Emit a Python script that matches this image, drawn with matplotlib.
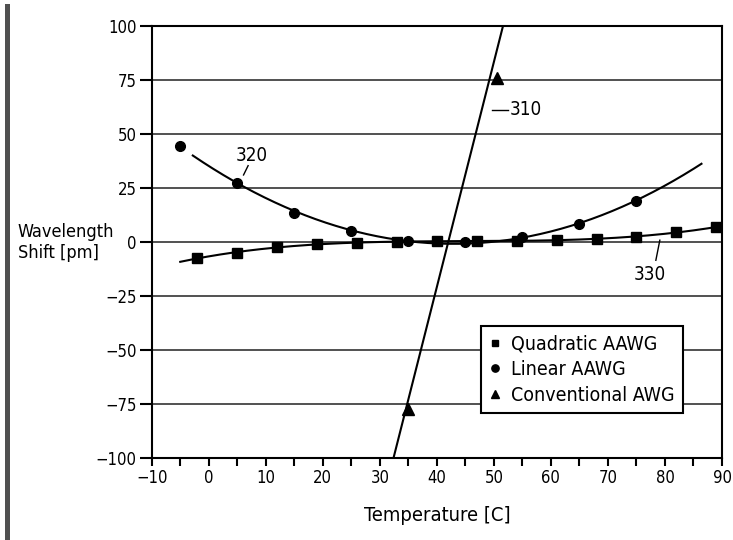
import matplotlib
matplotlib.use('Agg')
import matplotlib.pyplot as plt
import numpy as np
from matplotlib.patches import Rectangle

plt.rcParams['font.family'] = ['DejaVu Sans']
plt.rcParams['font.stretch'] = 'condensed'

# measured points
quad_temp = [-2, 5, 12, 19, 26, 33, 40, 47, 54, 61, 68, 75, 82, 89]
quad_shift = [-7.5, -5.0, -2.5, -0.9, -0.3, 0.0, 0.3, 0.3, 0.6, 0.9, 1.25, 2.5, 4.6, 6.8]

lin_temp = [-5, 5, 15, 25, 35, 45, 55, 65, 75]
lin_shift = [44.4, 27.5, 13.3, 5.1, 0.3, 0.0, 2.5, 8.3, 19.1]

conv_temp = [35, 50.5]
conv_shift = [-77.5, 76]

# drawn trend lines (ranges as in the figure)
quad_fit_range = [-5, 88.3]
lin_fit_range = [-2.8, 86.4]
conv_fit_temp = [32.4, 51.6]
conv_fit_shift = [-100, 100]

fig = plt.figure(figsize=(7.33, 5.40), dpi=100)
ax = fig.add_axes([0.207, 0.152, 0.778, 0.800])

# trend curves fitted to the measured points
t_q = np.linspace(quad_fit_range[0], quad_fit_range[1], 200)
ax.plot(t_q, np.polyval(np.polyfit(quad_temp, quad_shift, 3), t_q), color='black', lw=1.5, zorder=3)
t_l = np.linspace(lin_fit_range[0], lin_fit_range[1], 200)
ax.plot(t_l, np.polyval(np.polyfit(lin_temp, lin_shift, 2), t_l), color='black', lw=1.5, zorder=3)
ax.plot(conv_fit_temp, conv_fit_shift, color='black', lw=1.5, zorder=3)

ax.plot(quad_temp, quad_shift, 's', color='black', ms=6.5, ls='none', zorder=4, clip_on=False, label='Quadratic AAWG')
ax.plot(lin_temp, lin_shift, 'o', color='black', ms=7, ls='none', zorder=4, label='Linear AAWG')
ax.plot(conv_temp, conv_shift, '^', color='black', ms=8, ls='none', zorder=4, label='Conventional AWG')

ax.set_xlim(-10, 90)
ax.set_ylim(-100, 100)
ax.set_xticks(np.arange(-10, 91, 10))
ax.set_xticks(np.arange(-5, 90, 10), minor=True)
ax.set_yticks(np.arange(-100, 101, 25))
ax.yaxis.grid(True, color='#222222', lw=1.1)
ax.set_axisbelow(True)

for s in ax.spines.values():
    s.set_linewidth(1.5)
ax.tick_params(axis='both', which='both', direction='out', width=1.5, labelsize=12)
ax.tick_params(axis='x', which='both', length=6, pad=2)
ax.tick_params(axis='y', length=9, pad=2)

ax.set_xlabel('Temperature [C]', fontsize=14.5, labelpad=14)
fig.text(0.024, 0.551, 'Wavelength\nShift [pm]', fontsize=13, ha='left', va='center', linespacing=1.2)

# reference numerals
ax.text(7.5, 40, '320', fontsize=13.5, ha='center', va='center')
ax.plot([6.9, 6.1], [35.3, 31], color='black', lw=1)
ax.text(52.8, 61.3, '310', fontsize=13.5, ha='left', va='center')
ax.plot([49.6, 52.4], [61.3, 61.3], color='black', lw=1)
ax.text(77.4, -15, '330', fontsize=13.5, ha='center', va='center')
ax.plot([79.1, 78.4], [0.8, -8.5], color='black', lw=1)

leg = ax.legend(loc='lower left', bbox_to_anchor=(0.577, 0.103), borderaxespad=0,
                fontsize=14, frameon=True, fancybox=False, framealpha=1,
                edgecolor='black', handlelength=0.6, handletextpad=0.5,
                labelspacing=0.33, markerscale=0.75, borderpad=0.45)
leg.get_frame().set_linewidth(1.5)
leg.set_zorder(5)

# grey bar at the left edge of the page
fig.patches.append(Rectangle((0.0075, 0.0), 0.0058, 0.993, transform=fig.transFigure,
                             facecolor='#505050', edgecolor='none'))

fig.savefig('out.png', dpi=100)
